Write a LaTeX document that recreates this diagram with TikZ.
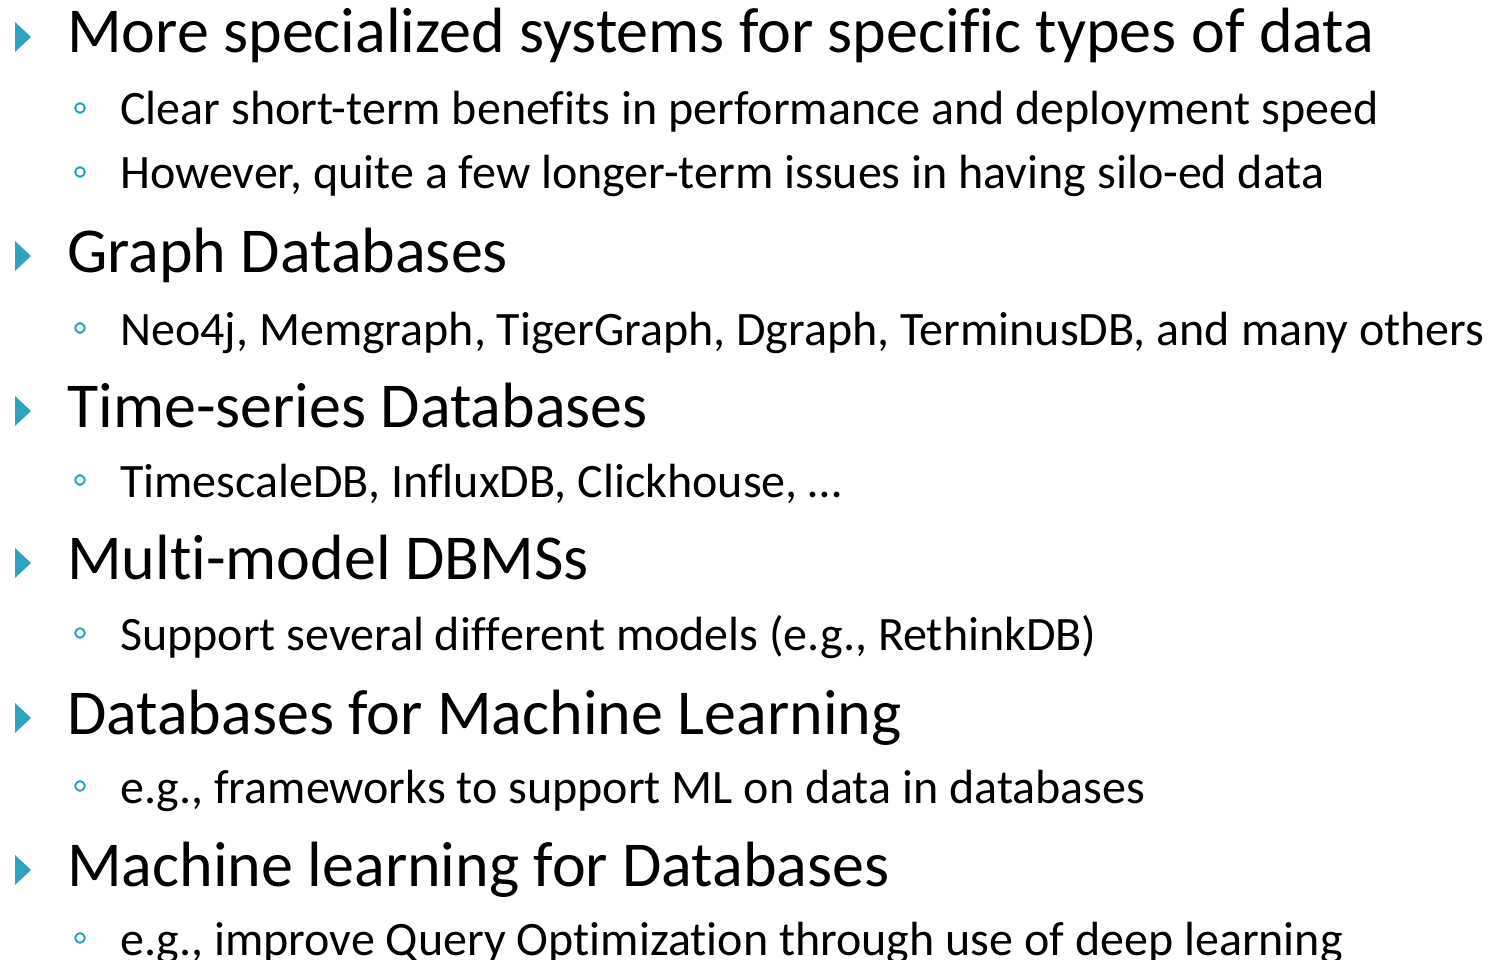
\documentclass[tikz,border=0pt]{standalone}
\usepackage{fontspec}
\setmainfont[RawFeature={-liga;-clig;-calt;-dlig;-rlig}]{Carlito}
% zero kern: keeps letter pairs such as t-i and f-i apart
\newcommand{\sep}{\kern0pt }
\definecolor{bulletblue}{HTML}{2EA3C0}
\tikzset{
  x=1pt, y=-1pt,
  lvlone/.style={anchor=base west, inner sep=0pt, font=\fontsize{64}{64}\selectfont},
  lvltwo/.style={anchor=base west, inner sep=0pt, font=\fontsize{48}{48}\selectfont},
  tri/.style={fill=bulletblue},
  ring/.style={draw=bulletblue, line width=2pt}
}
\newcommand{\tribullet}[1]{\fill[tri] (15,#1-15) -- (31,#1) -- (15,#1+15) -- cycle;}
\newcommand{\ringbullet}[1]{\draw[ring] (80,#1) circle (4.8);}
\begin{document}
\begin{tikzpicture}
\useasboundingbox (0,0) rectangle (1491,960);
\clip (0,0) rectangle (1491,960);
\tribullet{37}
\node[lvlone] (a) at (67,53) {More specialized systems for specif\sep ic types of data};
\ringbullet{108}
\node[lvltwo] (a1) at (120,125) {Clear short-term benef\sep its in performance and deployment speed};
\ringbullet{172}
\node[lvltwo] (a2) at (120,189) {However, quite a few longer-term issues in having silo-ed data};
\tribullet{256}
\node[lvlone] (b) at (67,272) {Graph Databases};
\ringbullet{328}
\node[lvltwo] (b1) at (120,345) {Neo4j, Memgraph, TigerGraph, Dgraph, TerminusDB, and many others};
\tribullet{411}
\node[lvlone] (c) at (67,427) {Time-series Databases};
\ringbullet{480}
\node[lvltwo] (c1) at (120,497) {TimescaleDB, Inf\sep luxDB, Clickhouse, …};
\tribullet{563}
\node[lvlone] (d) at (67,579) {Mult\sep i-model DBMSs};
\ringbullet{633}
\node[lvltwo] (d1) at (120,650) {Support several dif\sep f\sep erent models (e.g., RethinkDB)};
\tribullet{718}
\node[lvlone] (e) at (67,734) {Databases for Machine Learning};
\ringbullet{786}
\node[lvltwo] (e1) at (120,803) {e.g., frameworks to support ML on data in databases};
\tribullet{870}
\node[lvlone] (f) at (67,886) {Machine learning for Databases};
\ringbullet{938}
\node[lvltwo] (f1) at (120,955) {e.g., improve Query Opt\sep imizat\sep ion through use of deep learning};
\end{tikzpicture}
\end{document}
